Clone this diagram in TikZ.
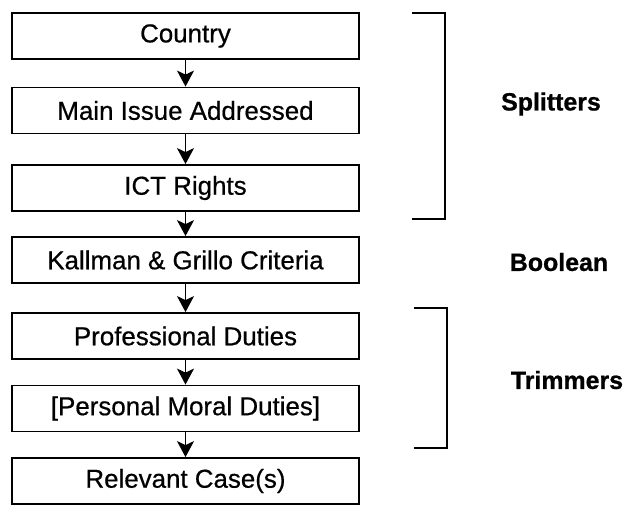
\documentclass[tikz,border=0pt]{standalone}
\usepackage{fontspec}
\setmainfont{Liberation Sans}
\newfontfamily\boxfont[FakeBold=0.6]{Liberation Sans}
\newfontfamily\groupfont[FakeBold=0.8]{Liberation Sans Bold}
\usetikzlibrary{arrows.meta}
\begin{document}
\begin{tikzpicture}[x=1bp,y=-1bp,
  stepbox/.style={draw, line width=1.8bp, minimum width=347bp, minimum height=46bp,
    inner sep=0pt, font=\boxfont\fontsize{26}{30}\selectfont},
  flow/.style={line width=1.6bp, -{Stealth[length=16bp,width=17bp,inset=4bp]}},
  brace/.style={line width=1.8bp},
  grouplabel/.style={font=\groupfont\fontsize{25}{30}\selectfont}]
\useasboundingbox (0,0) rectangle (635,512);
% processing chain
\node[stepbox] (country)  at (185.5,36)    {Country};
\node[stepbox] (issue)    at (185.5,110.5) {Main Issue Addressed};
\node[stepbox] (ict)      at (185.5,188)   {ICT Rights};
\node[stepbox] (kg)       at (185.5,260)   {Kallman \& Grillo Criteria};
\node[stepbox] (prof)     at (185.5,336)   {Professional Duties};
\node[stepbox] (personal) at (185.5,408.5) {[Personal Moral Duties]};
\node[stepbox] (relevant) at (185.5,481)   {Relevant Case(s)};
\draw[flow] (country) -- (issue);
\draw[flow] (issue) -- (ict);
\draw[flow] (ict) -- (kg);
\draw[flow] (kg) -- (prof);
\draw[flow] (prof) -- (personal);
\draw[flow] (personal) -- (relevant);
% group brackets
\coordinate (s1) at (412,13);
\coordinate (s2) at (445,13);
\coordinate (s3) at (445,219);
\coordinate (s4) at (412,219);
\draw[brace] (s1) -- (s2) -- (s3) -- (s4);
\coordinate (t1) at (414,308);
\coordinate (t2) at (447,308);
\coordinate (t3) at (447,448);
\coordinate (t4) at (414,448);
\draw[brace] (t1) -- (t2) -- (t3) -- (t4);
% group labels
\node[grouplabel] (splitters) at (551,104) {Splitters};
\node[grouplabel] (boolean)   at (559,262) {Boolean};
\node[grouplabel] (trimmers)  at (567,380) {Trimmers};
\end{tikzpicture}
\end{document}
